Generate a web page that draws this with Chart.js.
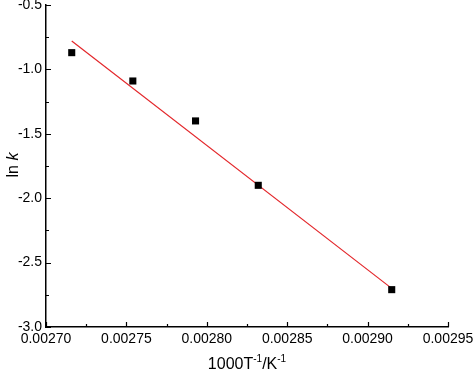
<!DOCTYPE html>
<html>
<head>
<meta charset="utf-8">
<script src="https://cdn.jsdelivr.net/npm/chart.js@4/dist/chart.umd.min.js"></script>
<style>
  html, body { margin: 0; padding: 0; background: #fff; }
  #wrap { width: 474px; height: 374px; }
</style>
</head>
<body>
<div id="wrap"><canvas id="c" width="474" height="374"></canvas></div>
<script>
// measured points (1000/T, ln k)
const invT = [0.002716, 0.002754, 0.002793, 0.002832, 0.002915];
const lnK = [-0.87, -1.09, -1.40, -1.90, -2.71];
// linear fit ends
const fitX = [0.002716, 0.002915];
const fitY = [-0.78, -2.70];

const xTicks = [0.00270, 0.00275, 0.00280, 0.00285, 0.00290, 0.00295];
const yTicks = [-3.0, -2.5, -2.0, -1.5, -1.0, -0.5];

const FONT = '"Liberation Sans", Arial, sans-serif';

const axisDecor = {
    id: 'axisDecor',
    afterDraw(chart) {
        const ctx = chart.ctx;
        const xs = chart.scales.x, ys = chart.scales.y;
        const a = chart.chartArea;
        ctx.save();
        ctx.strokeStyle = '#000';
        ctx.lineWidth = 1.2;
        ctx.beginPath();
        // x ticks (inward), minor in between
        xTicks.forEach((v, i) => {
            const px = Math.round(xs.getPixelForValue(v)) + 0.5;
            ctx.moveTo(px, a.bottom); ctx.lineTo(px, a.bottom - 5);
            if (i < xTicks.length - 1) {
                const m = Math.round(xs.getPixelForValue((v + xTicks[i + 1]) / 2)) + 0.5;
                ctx.moveTo(m, a.bottom); ctx.lineTo(m, a.bottom - 3);
            }
        });
        yTicks.forEach((v, i) => {
            const py = Math.round(ys.getPixelForValue(v)) + 0.5;
            ctx.moveTo(a.left, py); ctx.lineTo(a.left + 5, py);
            if (i < yTicks.length - 1) {
                const m = Math.round(ys.getPixelForValue((v + yTicks[i + 1]) / 2)) + 0.5;
                ctx.moveTo(a.left, m); ctx.lineTo(a.left + 3, m);
            }
        });
        ctx.stroke();

        // x title: 1000T^-1/K^-1
        ctx.fillStyle = '#000';
        ctx.textBaseline = 'alphabetic';
        const big = '16px ' + FONT, sup = '10px ' + FONT;
        const parts = [['1000T', big, 0], ['-1', sup, -7], ['/K', big, 0], ['-1', sup, -7]];
        let w = 0;
        parts.forEach(p => { ctx.font = p[1]; w += ctx.measureText(p[0]).width; });
        let x = (a.left + a.right) / 2 - w / 2;
        parts.forEach(p => {
            ctx.font = p[1];
            ctx.fillText(p[0], x, 369 + p[2]);
            x += ctx.measureText(p[0]).width;
        });

        // y title: ln k (k italic), rotated
        ctx.translate(18, 165);
        ctx.rotate(-Math.PI / 2);
        ctx.font = big;
        const t1 = 'ln ';
        ctx.font = 'italic 16px ' + FONT;
        const wk = ctx.measureText('k').width;
        ctx.font = big;
        const w1 = ctx.measureText(t1).width;
        let sx = -(w1 + wk) / 2;
        ctx.fillText(t1, sx, 0);
        ctx.font = 'italic 16px ' + FONT;
        ctx.fillText('k', sx + w1, 0);
        ctx.restore();
    }
};

new Chart(document.getElementById('c'), {
    type: 'scatter',
    data: {
        datasets: [
            {
                label: 'ln k',
                data: invT.map((v, i) => ({ x: v, y: lnK[i] })),
                pointStyle: 'rect',
                pointRadius: 5,
                pointBackgroundColor: '#000',
                pointBorderColor: '#000',
                pointBorderWidth: 0,
                order: 0
            },
            {
                label: 'fit',
                data: fitX.map((v, i) => ({ x: v, y: fitY[i] })),
                showLine: true,
                borderColor: '#e3262a',
                borderWidth: 1.2,
                pointRadius: 0,
                order: 1
            }
        ]
    },
    options: {
        responsive: false,
        animation: false,
        devicePixelRatio: 1,
        layout: { padding: { left: 0, right: 26, top: 5, bottom: 0 } },
        plugins: { legend: { display: false }, tooltip: { enabled: false } },
        scales: {
            x: {
                type: 'linear',
                min: 0.00270,
                max: 0.00295,
                afterBuildTicks: s => { s.ticks = xTicks.map(v => ({ value: v })); },
                afterFit: s => { s.height = 47; s.paddingLeft = 0; s.paddingRight = 0; },
                ticks: {
                    color: '#000',
                    font: { family: FONT, size: 14 },
                    padding: 4,
                    maxRotation: 0,
                    autoSkip: false,
                    callback: v => v.toFixed(5)
                },
                grid: { display: false, drawTicks: false },
                border: { display: true, color: '#000', width: 1.5 }
            },
            y: {
                type: 'linear',
                min: -3.0,
                max: -0.5,
                afterBuildTicks: s => { s.ticks = yTicks.map(v => ({ value: v })); },
                afterFit: s => { s.width = 46; s.paddingTop = 0; s.paddingBottom = 0; },
                ticks: {
                    color: '#000',
                    font: { family: FONT, size: 14 },
                    padding: 4,
                    autoSkip: false,
                    callback: v => v.toFixed(1)
                },
                grid: { display: false, drawTicks: false },
                border: { display: true, color: '#000', width: 1.5 }
            }
        }
    },
    plugins: [axisDecor]
});
</script>
</body>
</html>
